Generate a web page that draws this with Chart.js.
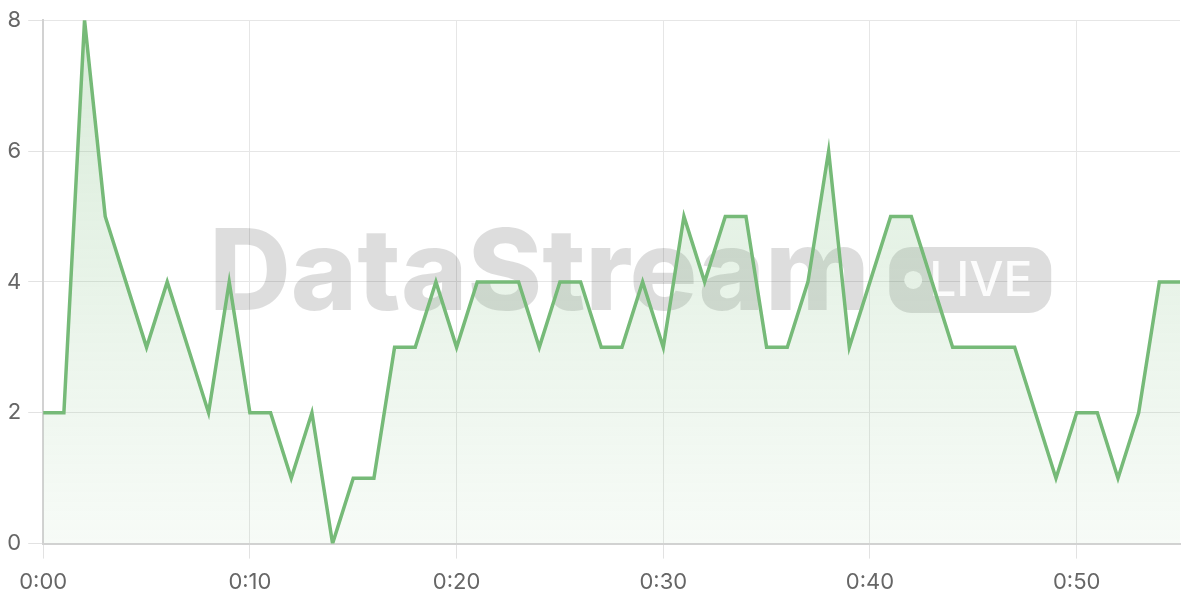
<!DOCTYPE html>
<html>
<head>
<meta charset="utf-8">
<script src="https://cdn.jsdelivr.net/npm/chart.js@4/dist/chart.umd.min.js"></script>
<style>
  html, body { margin: 0; padding: 0; background: #fff; }
  #wrap { width: 1200px; height: 600px; }
</style>
</head>
<body>
<div id="wrap"><canvas id="liveChart"></canvas></div>
<script>
const minutes = [];
for (let m = 0; m <= 55; m++) minutes.push('0:' + String(m).padStart(2, '0'));

const counts = [2, 2, 8, 5, 4, 3, 4, 3, 2, 4,
                2, 2, 1, 2, 0, 1, 1, 3, 3, 4,
                3, 4, 4, 4, 3, 4, 4, 3, 3, 4,
                3, 5, 4, 5, 5, 3, 3, 4, 6, 3,
                4, 5, 5, 4, 3, 3, 3, 3, 2, 1,
                2, 2, 1, 2, 4, 4];

const yTicks = [0, 2, 4, 6, 8];

const lineGreen = '#76ba78';

// big grey "DataStream LIVE" mark behind the line
const watermark = {
    id: 'watermark',
    beforeDatasetsDraw(chart) {
        const ctx = chart.ctx;
        const area = chart.chartArea;
        const cy = (area.top + area.bottom) / 2 - 6;
        ctx.save();
        ctx.font = '800 113px Inter, "DejaVu Sans", sans-serif';
        ctx.textBaseline = 'middle';
        ctx.fillStyle = 'rgba(0,0,0,0.135)';
        const startX = area.left + 166;
        ctx.fillText('DataStream', startX, cy);

        const badgeW = 162, badgeH = 66;
        const bx = area.left + 846, by = cy - badgeH / 2 + 4;
        ctx.beginPath();
        ctx.roundRect(bx, by, badgeW, badgeH, 22);
        ctx.fill();

        ctx.fillStyle = 'rgba(255,255,255,0.9)';
        ctx.beginPath();
        ctx.arc(bx + 24, by + badgeH / 2, 9, 0, Math.PI * 2);
        ctx.fill();
        ctx.font = '500 48px Inter, "DejaVu Sans", sans-serif';
        ctx.fillText('LIVE', bx + 40, by + badgeH / 2 + 2);
        ctx.restore();
    }
};

const ctx = document.getElementById('liveChart').getContext('2d');
new Chart(ctx, {
    type: 'line',
    data: {
        labels: minutes,
        datasets: [{
            data: counts,
            borderColor: lineGreen,
            borderWidth: 3.5,
            pointRadius: 0,
            tension: 0,
            fill: true,
            backgroundColor: (c) => {
                const area = c.chart.chartArea;
                if (!area) return 'rgba(118,186,120,0.15)';
                const g = c.chart.ctx.createLinearGradient(0, area.top, 0, area.bottom);
                g.addColorStop(0, 'rgba(118,186,120,0.28)');
                g.addColorStop(1, 'rgba(118,186,120,0.06)');
                return g;
            }
        }]
    },
    options: {
        responsive: true,
        maintainAspectRatio: false,
        animation: false,
        layout: { padding: { top: 8, right: 20, left: 0, bottom: -7 } },
        plugins: {
            legend: { display: false },
            tooltip: { enabled: false }
        },
        scales: {
            x: {
                ticks: {
                    autoSkip: false,
                    maxRotation: 0,
                    color: '#666',
                    font: { family: 'Inter', size: 22 },
                    padding: 11,
                    callback: (v, i) => (i % 10 === 0 ? minutes[i] : '')
                },
                grid: {
                    color: (c) => (c.index % 10 === 0 ? '#e6e6e6' : 'transparent'),
                    tickColor: (c) => (c.index % 10 === 0 ? '#e2e2e2' : 'transparent'),
                    tickLength: 15
                },
                border: { color: '#d2d2d2', width: 2 }
            },
            y: {
                min: 0,
                max: 8,
                afterBuildTicks: (axis) => { axis.ticks = yTicks.map(v => ({ value: v })); },
                ticks: {
                    color: '#666',
                    font: { family: 'Inter', size: 22 },
                    padding: 7
                },
                grid: { color: '#e6e6e6', tickColor: '#e2e2e2', tickLength: 15 },
                border: { color: '#d2d2d2', width: 2 }
            }
        }
    },
    plugins: [watermark]
});
</script>
</body>
</html>
